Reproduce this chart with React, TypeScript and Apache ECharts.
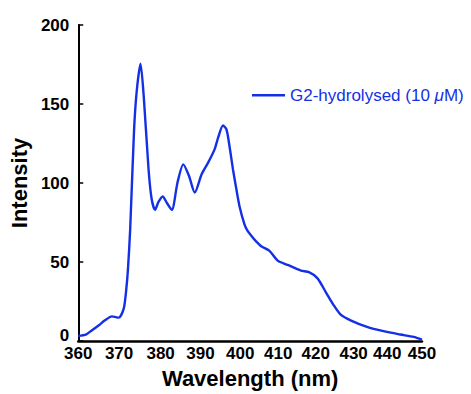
import React, { useEffect, useRef } from "react";
import * as echarts from "echarts";

const wavelengths = [
  360, 362, 363.6, 365.4, 367, 368.8, 370.6, 371.9, 372.5, 373, 373.6, 374.6, 375.3, 376.3,
  377.2, 378.4, 379.2, 380.1, 381, 382.1, 383.3, 384.5, 386, 387.5, 389, 390.5, 392.3, 394,
  395.7, 396.6, 397.9, 398.8, 399.6, 400.5, 401.4, 402.2, 403.5, 404.3, 405.3, 406.5, 407.9,
  410, 412.2, 414.8, 418.3, 420.4, 422.6, 424.8, 426.9, 428.7, 431.3, 435.6, 439.9, 444.3,
  447.8, 450,
];
const intensities = [
  3.3, 4.1, 6.8, 10, 13.1, 15.6, 14.8, 20.5, 31, 45, 71, 133, 158, 175.5,
  152.8, 108.7, 90, 83, 88, 91.5, 87, 83, 100.5, 111.8, 104.4, 94, 105.5, 112.9,
  121.3, 128.6, 136.4, 133.9, 123.3, 108.7, 96, 85.5, 74, 69.8, 66.6, 63.2, 60,
  57.2, 50.9, 48.2, 44.6, 43.6, 39.8, 31, 22.6, 16.7, 13.1, 8.9, 6.2, 4.1,
  2.6, 0.9,
];
const xTicks = [360, 370, 380, 390, 400, 410, 420, 430, 440, 450];
const seriesName = "G2-hydrolysed (10 μM)";
const xTitle = "Wavelength (nm)";
const yTitle = "Intensity";

// horizontal nudges (px) of the hand-placed tick labels in the reference
const xLabelNudge = [0, 2.6, 6, 7.7, 9.2, 9, 8.3, 8, 3.4, 0];

const BLUE = "#1430e6";
const FONT = "'Liberation Sans', Arial, Helvetica, sans-serif";

export default function App() {
  const ref = useRef<HTMLDivElement>(null);
  useEffect(() => {
    if (!ref.current) return;
    const chart = echarts.init(ref.current, null, { renderer: "svg" });
    const labelBase = {
      fontSize: 17,
      fontWeight: "bold",
      color: "#000",
      fontFamily: FONT,
      lineHeight: 10,
    };
    const rich: Record<string, any> = {};
    xTicks.forEach((t, i) => {
      rich["p" + t] = { ...labelBase, padding: [0, 0, 0, 2 * xLabelNudge[i]] };
    });
    chart.setOption({
      animation: false,
      textStyle: { fontFamily: FONT },
      grid: { left: 76, right: 49, top: 25, bottom: 51.5, containLabel: false },
      legend: {
        left: 252,
        top: 86.75,
        padding: 0,
        icon: "rect",
        itemWidth: 33,
        itemHeight: 2.5,
        data: [seriesName],
        formatter: () => "G2-hydrolysed (10 {i|μ}M)",
        textStyle: {
          color: BLUE,
          fontSize: 17,
          fontFamily: FONT,
          rich: { i: { color: BLUE, fontSize: 17, fontStyle: "italic", fontFamily: FONT } },
        },
      },
      xAxis: {
        type: "value",
        min: 360,
        max: 450,
        interval: 10,
        name: xTitle,
        nameLocation: "middle",
        nameGap: 26,
        nameTextStyle: { fontSize: 22, fontWeight: "bold", color: "#000", fontFamily: FONT },
        axisLine: { show: true, lineStyle: { color: "#000", width: 2.5 } },
        axisTick: { show: false },
        splitLine: { show: false },
        axisLabel: {
          margin: 7,
          lineHeight: 10,
          formatter: (v: number) => `{p${v}|${v}}`,
          rich,
        },
      },
      yAxis: {
        type: "value",
        min: 0,
        max: 200,
        interval: 50,
        name: yTitle,
        nameLocation: "middle",
        nameGap: 48,
        nameTextStyle: { fontSize: 22, fontWeight: "bold", color: "#000", fontFamily: FONT },
        axisLine: { show: true, lineStyle: { color: "#000", width: 2 } },
        axisTick: { show: true, inside: true, length: 5, lineStyle: { color: "#000", width: 1.5 } },
        splitLine: { show: false },
        axisLabel: {
          margin: 9,
          lineHeight: 10,
          formatter: (v: number) => (v === 0 ? `{z|${v}}` : `{n|${v}}`),
          rich: {
            n: { ...labelBase },
            z: { ...labelBase, padding: [0, 0, 11, 0] },
          },
        },
      },
      series: [
        {
          name: seriesName,
          type: "line",
          data: wavelengths.map((w, i) => [w, intensities[i]]),
          symbol: "none",
          showSymbol: false,
          smooth: 0.25,
          lineStyle: { color: BLUE, width: 2.4 },
          itemStyle: { color: BLUE },
        },
      ],
    });
    return () => chart.dispose();
  }, []);
  return (
    <div
      ref={ref}
      style={{ position: "absolute", left: 0, top: 0, width: 471, height: 394 }}
    />
  );
}
